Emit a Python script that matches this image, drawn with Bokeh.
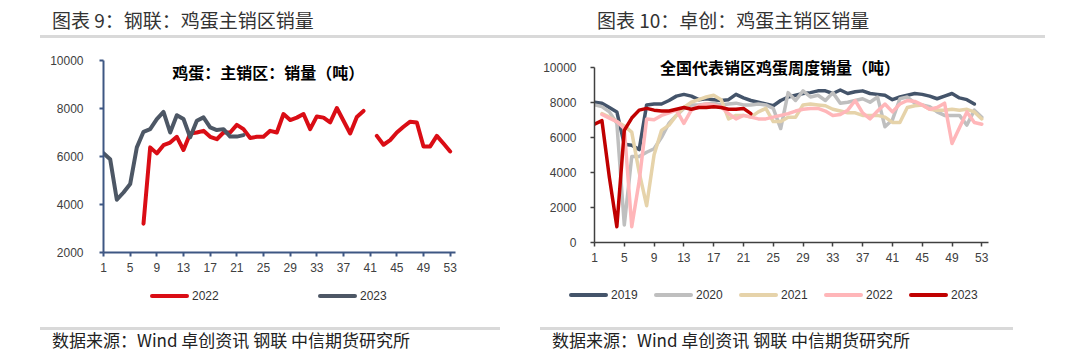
import math
from bokeh.plotting import figure
from bokeh.models import Range1d, FixedTicker, Label, Div
from bokeh.layouts import row, column
from bokeh.embed import file_html
from bokeh.resources import INLINE

nan = float("nan")
weeks = list(range(1, 54))
tick_weeks = list(range(1, 54, 4))

# ---- left chart: 钢联 鸡蛋主销区销量 ----
left_2022 = [nan] * 6 + [
    3200, 6380, 6130, 6470, 6580, 6820, 6270, 6960, 7000, 7070,
    6820, 6720, 7000, 7000, 7320, 7140, 6770, 6820, 6820, 7070,
    7000, 7770, 7520, 7620, 7770, 7140, 7670, 7620, 7420, 8020,
    7490, 6960, 7650, 7900] + [nan] + [
    6860, 6490, 6680, 7000, 7240, 7450, 7420, 6420, 6420, 6860, 6540, 6210]
left_2023 = [6140, 5890, 4200, 4500, 4850, 6380, 7030, 7140, 7560, 7860,
             7000, 7720, 7560, 6800, 7490, 7630, 7210, 7100, 7140, 6830,
             6830, 6890] + [nan] * 31
left_yticks = [2000, 4000, 6000, 8000, 10000]
left_series = [("2022", left_2022, "#DA0D15"), ("2023", left_2023, "#4D5765")]

# ---- right chart: 卓创 全国代表销区鸡蛋周度销量 ----
r2019 = [8000, 7950, 7700, 7450, 5600, 5550, 5300, 7850, 7900, 7900,
         8100, 8350, 8450, 8350, 8150, 8200, 8150, 8100, 8150, 8450,
         8250, 8100, 8000, 7900, 7800, 8100, 8300, 8400, 8500, 8550,
         8650, 8650, 8500, 8700, 8500, 8600, 8650, 8500, 8450, 8400,
         8150, 8300, 8400, 8500, 8450, 8350, 8200, 8350, 8500, 8250,
         8150, 7900, nan]
r2020 = [7850, 7750, 7450, 6800, 1000, 4900, 4900, 5150, 5350, 6000,
         6800, 7250, 7650, 7850, 7850, 7900, 7950, 7850, 7900, 7950,
         7850, 7850, 7900, 7850, 7650, 6500, 8550, 8100, 8650, 8300,
         8400, 8100, 8550, 7950, 8000, 8100, 8200, 8000, 8300, 6600,
         7000, 8200, 8300, 7950, 7850, 7750, 7450, 7250, 7250, 7250,
         6700, 7550, 7150]
r2021 = [nan, 7350, 7150, 6900, 6650, 6300, 4000, 2100, 5000, 6400,
         6700, 7250, 7700, 8000, 8150, 8300, 8400, 8150, 7050, 7250,
         7250, 7150, 7450, 7650, 6900, 6900, 7150, 7150, 7850, 7900,
         7850, 7800, 7600, 7500, 7400, 7400, 7250, 7250, 7250, 7150,
         6850, 6850, 7700, 7800, 7850, 7600, 7550, 7550, 7600, 7550,
         7600, 7450, 7050]
r2022 = [nan, 7300, 7100, 6900, 6500, 900, 3500, 7050, 7000, 7250,
         7400, 7550, 6800, 7550, 7800, 7900, 7850, 7750, 7350, 7050,
         7250, 7150, 7050, 7050, 7150, 7250, 7350, 7500, 7600, 7650,
         7650, 7500, 7250, 7300, 7550, 8100, 7400, 7050, 7500, 7900,
         7450, 7900, 8100, 8050, 7850, 7600, 7700, 7950, 5650, 6550,
         7450, 6850, 6750]
r2023 = [6750, 6950, 3700, 900, 6400, 7100, 7550, 7650, 7550, 7500,
         7500, 7600, 7700, 7600, 7700, 7700, 7750, 7700, 7600, 7600,
         7650, 7350] + [nan] * 31
right_yticks = [0, 2000, 4000, 6000, 8000, 10000]

right_series = [("2019", r2019, "#44546A"), ("2020", r2020, "#BFBFBF"),
                ("2021", r2021, "#E6D3AA"), ("2022", r2022, "#FFB6B9"),
                ("2023", r2023, "#C00000")]

TICK_FONT = "Liberation Sans"
CJK = "Noto Sans CJK SC"


def style_axes(p, color, width, xstand, ystand):
    for ax in (p.xaxis[0], p.yaxis[0]):
        ax.axis_line_color = color
        ax.axis_line_width = width
        ax.major_tick_line_color = color
        ax.major_tick_line_width = width
        ax.major_tick_out = 4
        ax.major_tick_in = 0
        ax.minor_tick_out = 0
        ax.minor_tick_in = 0
        ax.major_label_text_font = TICK_FONT
        ax.major_label_text_font_size = "12px"
        ax.major_label_text_color = "#404040"
    p.xaxis[0].major_label_standoff = xstand
    p.yaxis[0].major_label_standoff = ystand
    p.xgrid.visible = False
    p.ygrid.visible = False
    p.outline_line_color = None


# ---------- left figure ----------
p1 = figure(title=None, frame_width=352, frame_height=192, min_border_left=103,
            min_border_right=85, min_border_top=20, min_border_bottom=26,
            output_backend="svg", toolbar_location=None,
            x_range=Range1d(1, 53.8), y_range=Range1d(2000, 10000))
p1.xaxis.ticker = FixedTicker(ticks=tick_weeks)
p1.yaxis.ticker = FixedTicker(ticks=left_yticks)
style_axes(p1, "#3E5783", 2, 6, 16)
for name, vals, col in left_series:
    p1.line(weeks, vals, line_color=col, line_width=4, line_join="round", line_cap="round")
p1.add_layout(Label(x=25.7, y=9530, text="鸡蛋：主销区：销量（吨）", text_font=CJK,
                    text_font_size="16px", text_font_style="bold", text_color="#000000",
                    text_align="center", text_baseline="middle"))

# ---------- right figure ----------
p2 = figure(title=None, frame_width=394, frame_height=186, min_border_left=53,
            min_border_right=93, min_border_top=16, min_border_bottom=36,
            output_backend="svg", toolbar_location=None,
            x_range=Range1d(1, 53.9), y_range=Range1d(0, 10611))
p2.xaxis.ticker = FixedTicker(ticks=tick_weeks)
p2.yaxis.ticker = FixedTicker(ticks=right_yticks)
p2.yaxis.bounds = (0, 10000)
style_axes(p2, "#404040", 1.5, 6, 14)
for name, vals, col in right_series:
    p2.line(weeks, vals, line_color=col, line_width=3.5, line_join="round", line_cap="round")
p2.add_layout(Label(x=25.9, y=10000, text="全国代表销区鸡蛋周度销量（吨）", text_font=CJK,
                    text_font_size="16px", text_font_style="bold", text_color="#000000",
                    text_align="center", text_baseline="middle"))


def header(text, tx, bx, bw):
    html = (f'<div style="position:relative;width:540px;height:40px;">'
            f'<div style="position:absolute;left:{tx}px;top:10px;font-family:\'{CJK}\';'
            f'font-size:19px;line-height:20px;color:#333333;white-space:nowrap;">{text}</div>'
            f'<div style="position:absolute;left:{bx}px;top:35px;width:{bw}px;height:3px;'
            f'background:#D9D9D9;"></div></div>')
    return Div(text=html, width=540, height=40, margin=0)


def legend_html(series, x0, step, top):
    parts = []
    for i, (name, _vals, col) in enumerate(series):
        x = x0 + i * step
        parts.append(
            f'<div style="position:absolute;left:{x}px;top:{top}px;width:39px;height:4px;'
            f'border-radius:2px;background:{col};"></div>'
            f'<div style="position:absolute;left:{x + 42}px;top:{top - 5}px;'
            f'font-family:\'{TICK_FONT}\';font-size:12px;line-height:14px;color:#333333;">{name}</div>')
    return "".join(parts)


def footer(text, tx, bx, bw, legend):
    html = (f'<div style="position:relative;width:540px;height:86px;">'
            f'{legend}'
            f'<div style="position:absolute;left:{bx}px;top:49px;width:{bw}px;height:3px;'
            f'background:#D9D9D9;"></div>'
            f'<div style="position:absolute;left:{tx}px;top:53px;font-family:\'{CJK}\';'
            f'font-size:17px;line-height:18px;color:#222222;white-space:nowrap;">{text}</div></div>')
    return Div(text=html, width=540, height=86, margin=0)


src = "数据来源：Wind 卓创资讯 钢联 中信期货研究所"
layout = row(
    column(header("图表 9：钢联：鸡蛋主销区销量", 52, 40, 500), p1,
           footer(src, 52, 40, 460, legend_html(left_series, 150, 168, 16)), spacing=0),
    column(header("图表 10：卓创：鸡蛋主销区销量", 57, 0, 505), p2,
           footer(src, 12, 0, 473, legend_html(right_series, 29, 85, 15)), spacing=0),
    spacing=0)

open("out.html", "w").write(file_html(layout, INLINE))
